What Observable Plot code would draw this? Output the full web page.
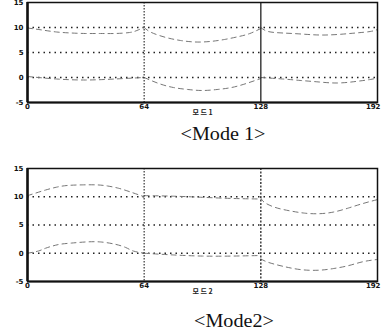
<!DOCTYPE html>
<html><head><meta charset="utf-8">
<script src="https://cdn.jsdelivr.net/npm/d3@7"></script>
<script src="https://cdn.jsdelivr.net/npm/@observablehq/plot@0.6"></script>
<style>
body{margin:0;background:#fff;width:381px;height:335px;position:relative;overflow:hidden}
.chart{position:absolute;left:0}
.cap{position:absolute;font-family:"Liberation Serif","DejaVu Serif",serif;font-size:18px;color:#111;transform:translateX(-50%) scaleX(1.12);white-space:pre}
</style></head><body>
<div id="c1" class="chart" style="top:0"></div>
<div class="cap" style="left:223px;top:124px">&lt;Mode 1&gt;</div>
<div id="c2" class="chart" style="top:165px"></div>
<div class="cap" style="left:234px;top:311px">&lt;Mode2&gt;</div>
<script>
const xTicks = [0, 64, 128, 192];
const yTicks = [-5, 0, 5, 10, 15];
const gridY = [0, 5, 10];
const dividers = [64, 128];
const xLabels = ["모 드 1", "모 드 2"];

// Mode 1
const m1UpperS1X = [0, 8, 16, 24, 32, 40, 48, 56, 60, 64];
const m1UpperS1Y = [9.9, 9.5, 9.1, 8.9, 8.8, 8.8, 8.8, 9.0, 9.4, 10.0];
const m1UpperS2X = [64, 68, 76, 84, 92, 100, 108, 116, 122, 128];
const m1UpperS2Y = [10.0, 9.0, 8.0, 7.4, 7.1, 7.2, 7.6, 8.2, 8.8, 9.8];
const m1UpperS3X = [128, 132, 140, 150, 160, 170, 180, 188, 192];
const m1UpperS3Y = [10.0, 9.2, 8.9, 8.7, 8.5, 8.6, 8.9, 9.2, 9.6];
const m1LowerS1X = [0, 16, 32, 48, 64];
const m1LowerS1Y = [0.2, -0.3, -0.5, -0.3, 0.0];
const m1LowerS2X = [64, 72, 80, 88, 96, 104, 112, 120, 128];
const m1LowerS2Y = [0.0, -1.2, -2.0, -2.4, -2.6, -2.4, -2.0, -1.2, -0.2];
const m1LowerS3X = [128, 140, 150, 160, 170, 180, 188, 192];
const m1LowerS3Y = [0.0, -0.3, -0.6, -0.9, -1.1, -0.8, -0.4, -0.1];

// Mode 2
const m2UpperS1X = [0, 4, 10, 16, 22, 30, 38, 44, 50, 56, 64];
const m2UpperS1Y = [10.2, 10.6, 11.2, 11.7, 12.0, 12.1, 12.1, 11.9, 11.5, 10.9, 10.0];
const m2UpperS2X = [64, 80, 96, 112, 128];
const m2UpperS2Y = [10.2, 10.1, 9.9, 9.7, 9.6];
const m2UpperS3X = [128, 130, 136, 144, 152, 160, 168, 176, 184, 192];
const m2UpperS3Y = [9.8, 9.0, 8.1, 7.5, 7.1, 7.0, 7.3, 8.0, 8.8, 9.5];
const m2LowerS1X = [0, 6, 10, 14, 18, 24, 32, 40, 48, 54, 58, 64];
const m2LowerS1Y = [0.0, 0.4, 0.9, 1.3, 1.6, 1.8, 2.0, 2.0, 1.6, 1.0, 0.4, 0.0];
const m2LowerS2X = [64, 80, 96, 112, 128];
const m2LowerS2Y = [0.0, -0.3, -0.5, -0.5, -0.4];
const m2LowerS3X = [128, 132, 140, 150, 160, 168, 176, 184, 192];
const m2LowerS3Y = [-1.0, -1.6, -2.3, -2.9, -3.0, -2.7, -2.2, -1.5, -1.1];

function rows(key, xs, ys) { return xs.map((x, i) => ({key, x, y: ys[i]})); }

const mode1 = [
  ...rows("u1", m1UpperS1X, m1UpperS1Y), ...rows("u2", m1UpperS2X, m1UpperS2Y), ...rows("u3", m1UpperS3X, m1UpperS3Y),
  ...rows("l1", m1LowerS1X, m1LowerS1Y), ...rows("l2", m1LowerS2X, m1LowerS2Y), ...rows("l3", m1LowerS3X, m1LowerS3Y)
];
const mode2 = [
  ...rows("u1", m2UpperS1X, m2UpperS1Y), ...rows("u2", m2UpperS2X, m2UpperS2Y), ...rows("u3", m2UpperS3X, m2UpperS3Y),
  ...rows("l1", m2LowerS1X, m2LowerS1Y), ...rows("l2", m2LowerS2X, m2LowerS2Y), ...rows("l3", m2LowerS3X, m2LowerS3Y)
];

function chart(data, label, height, mTop, mBottom, div2Dashed) {
  return Plot.plot({
    width: 381, height,
    marginLeft: 27, marginRight: 4, marginTop: mTop, marginBottom: mBottom,
    style: {fontFamily: "DejaVu Sans, sans-serif", fontSize: "7px", fontWeight: "bold", color: "#111", background: "#fff"},
    x: {domain: [0, 192], label: null},
    y: {domain: [-5, 15], label: null},
    marks: [
      Plot.ruleY(gridY, {stroke: "#222", strokeWidth: 1.3, strokeDasharray: "1.5,4"}),
      Plot.line(data, {x: "x", y: "y", z: "key", stroke: "#777", strokeWidth: 1, strokeDasharray: "5,4", curve: "natural"}),
      Plot.ruleX([dividers[0]], {stroke: "#444", strokeWidth: 1.3, strokeDasharray: "1.5,1.5"}),
      Plot.ruleX([dividers[1]], {stroke: "#222", strokeWidth: 1.3, strokeDasharray: div2Dashed ? "2,1.5" : null}),
      Plot.frame({stroke: "#111", strokeWidth: 1.5}),
      Plot.ruleX([0], {stroke: "#111", strokeWidth: 2.5}),
      Plot.ruleY([-5], {stroke: "#111", strokeWidth: 2}),
      Plot.axisY({ticks: yTicks, tickSize: 0, tickPadding: 4, tickFormat: d => d, label: null}),
      Plot.axisX({ticks: xTicks.slice(0, 3), tickSize: 0, tickPadding: 2, tickFormat: d => d, label: null}),
      Plot.axisX({ticks: xTicks.slice(3), tickSize: 0, tickPadding: 2, tickFormat: d => d, label: null, textAnchor: "end", dx: 3}),
      Plot.text([label], {frameAnchor: "bottom", dy: 12, fontSize: 7, fontWeight: "bold", fill: "#222", fontFamily: "Noto Sans CJK KR, sans-serif"})
    ]
  });
}

document.getElementById("c1").append(chart(mode1, xLabels[0], 116, 2, 14, false));
document.getElementById("c2").append(chart(mode2, xLabels[1], 132, 3, 16, true));
</script>
</body></html>
